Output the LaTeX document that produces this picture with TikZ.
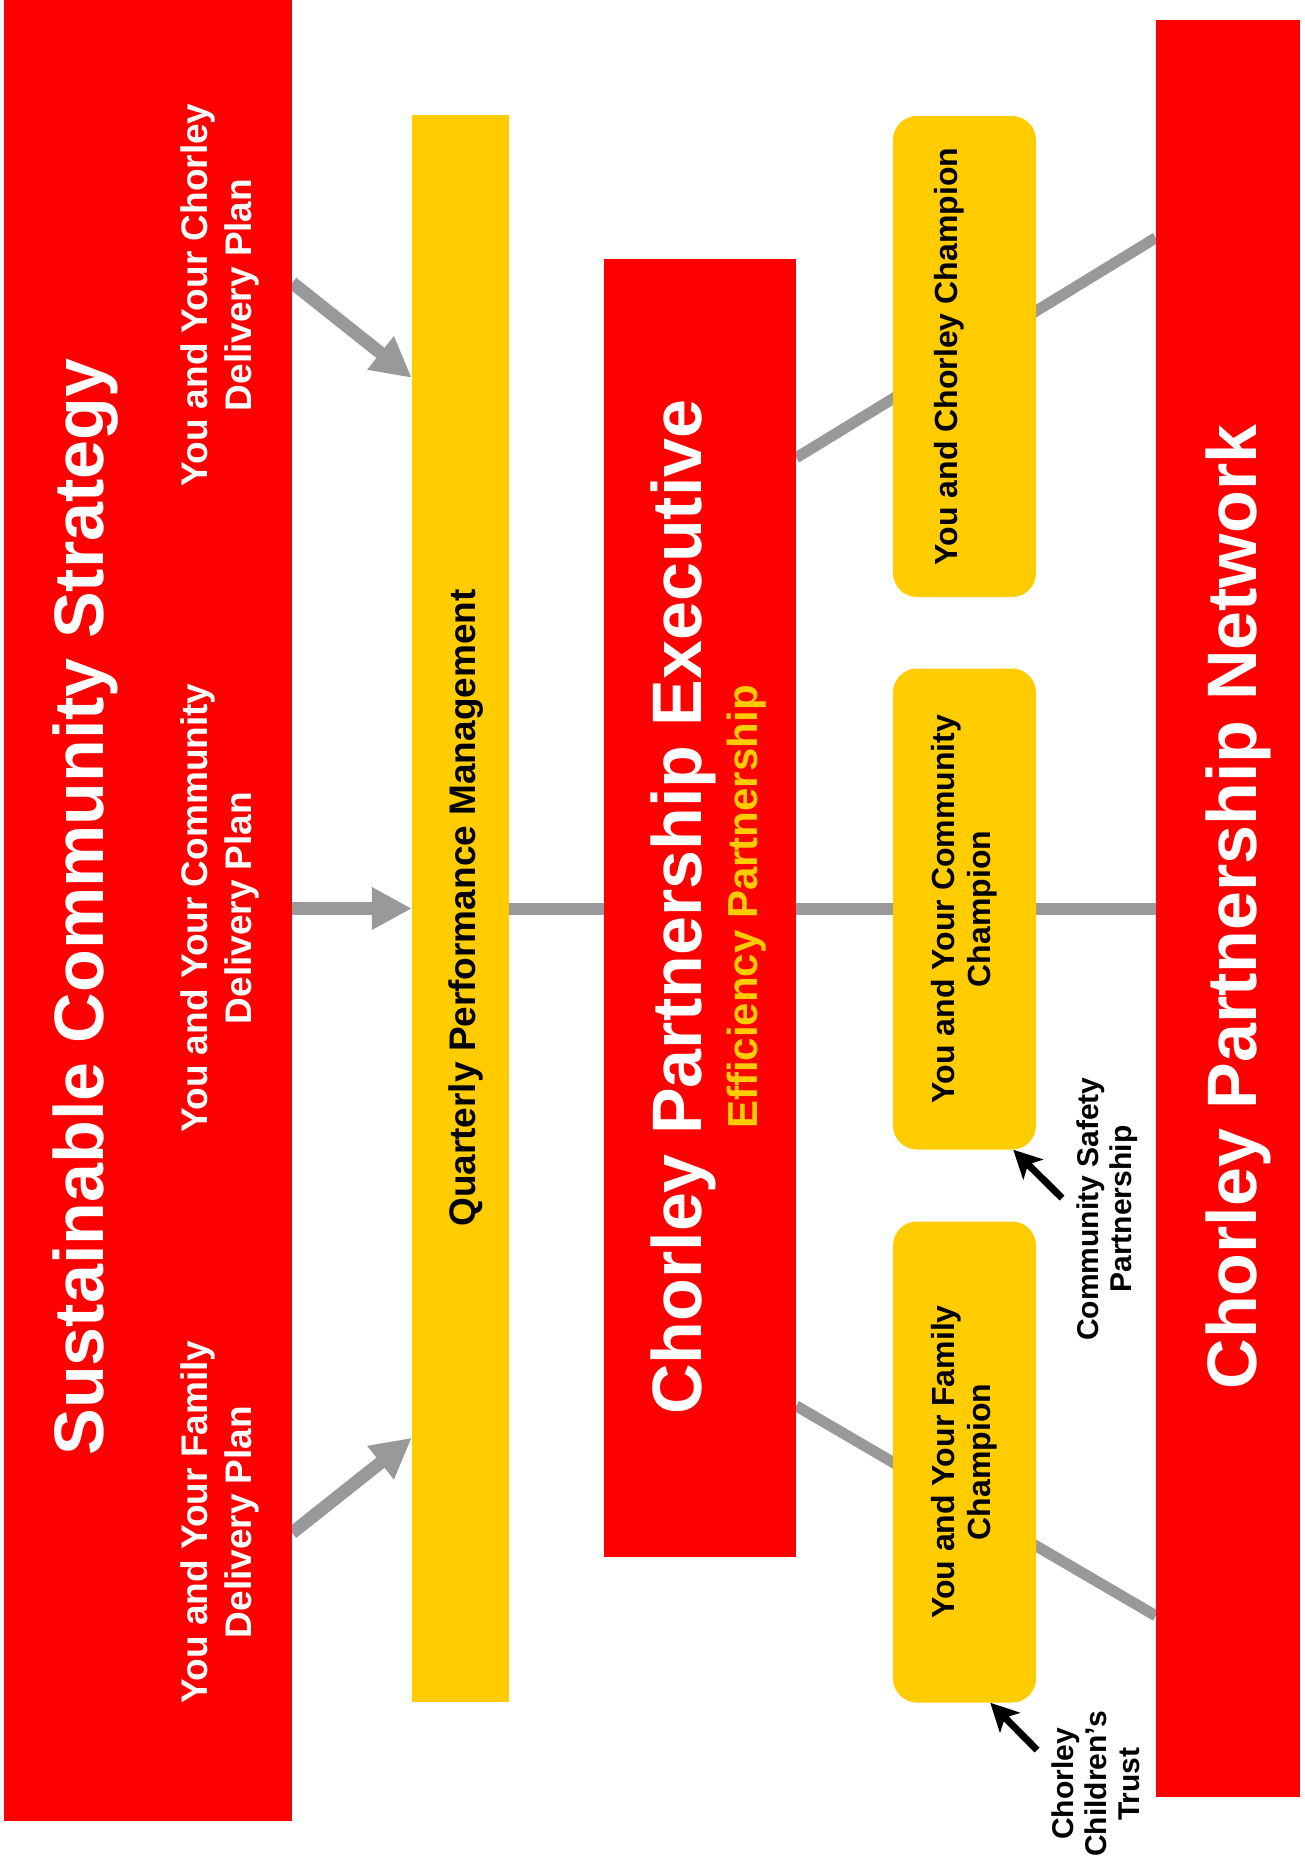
\documentclass[tikz,border=0pt]{standalone}
\usepackage{fontspec}
\setmainfont{Liberation Sans}
\usetikzlibrary{arrows.meta,backgrounds}
\definecolor{cred}{HTML}{FF0000}
\definecolor{cyel}{HTML}{FFCC00}
\definecolor{cgrey}{HTML}{999999}
\begin{document}
\begin{tikzpicture}[x=1pt,y=-1pt,
  redbox/.style={fill=cred,draw=none,inner sep=0pt},
  yelbox/.style={fill=cyel,draw=none,inner sep=0pt},
  champbox/.style={fill=cyel,draw=none,inner sep=0pt,rounded corners=24pt,minimum width=143pt,minimum height=481pt},
  rtext/.style={rotate=90,inner sep=0pt,align=center},
  bigtitle/.style={rtext,text=white,font=\bfseries\fontsize{70}{80}\selectfont},
  plantext/.style={rtext,text=white,font=\bfseries\fontsize{37}{44}\selectfont},
  qpmtext/.style={rtext,text=black,font=\bfseries\fontsize{37}{44}\selectfont},
  efftext/.style={rtext,text=cyel,font=\bfseries\fontsize{42}{48}\selectfont},
  champtext/.style={rtext,text=black,font=\bfseries\fontsize{32}{36}\selectfont},
  labeltext/.style={rtext,text=black,font=\bfseries\fontsize{30}{33}\selectfont},
  greyline/.style={draw=cgrey,line width=12pt},
  greyarrow/.style={draw=cgrey,line width=13pt,-{Triangle[length=40pt,width=40pt]}},
  blackarrow/.style={draw=black,line width=7pt,-{Stealth[length=28pt,width=28pt,inset=7pt]}}
]
\useasboundingbox (0,0) rectangle (1305,1863);

% boxes
\node[redbox,minimum width=288pt,minimum height=1821pt] (scs) at (148,910.5) {};
\node[yelbox,minimum width=97pt,minimum height=1587pt] (qpm) at (460.5,908.5) {};
\node[redbox,minimum width=192pt,minimum height=1298pt] (exec) at (700,908) {};
\node[redbox,minimum width=144pt,minimum height=1777pt] (net) at (1228,908.5) {};
\node[champbox] (chor) at (964.5,356.5) {};
\node[champbox] (comm) at (964.5,909) {};
\node[champbox] (fam) at (964.5,1462) {};

% texts
\node[bigtitle] (scsT) at (86,907) {Sustainable Community Strategy};
\node[plantext] (p1) at (220,295) {You and Your Chorley\\Delivery Plan};
\node[plantext] (p2) at (220,908) {You and Your Community\\Delivery Plan};
\node[plantext] (p3) at (220,1522) {You and Your Family\\Delivery Plan};
\node[qpmtext] (qpmT) at (466,908) {Quarterly Performance Management};
\node[bigtitle] (execT) at (683,907) {Chorley Partnership Executive};
\node[efftext] (effT) at (747,907) {Efficiency Partnership};
\node[bigtitle] (netT) at (1238,907) {Chorley Partnership Network};
\node[champtext] (chorT) at (949,356.5) {You and Chorley Champion};
\node[champtext] (commT) at (964,909) {You and Your Community\\Champion};
\node[champtext] (famT) at (964,1462) {You and Your Family\\Champion};
\node[labeltext] (csp) at (1107,1209) {Community Safety\\Partnership};
\node[labeltext] (cct) at (1096,1784) {Chorley\\Children’s\\Trust};

\coordinate (cspTail) at (1062,1198);
\coordinate (cctTail) at (1037,1750);

\begin{scope}[on background layer]
\fill[white] (0,0) rectangle (1305,1863);
\draw[greyarrow] ([yshift=-283pt]scs.north east) -- ([yshift=-263pt]qpm.north west);
\draw[greyarrow] (scs.east |- qpm.west) -- (qpm.west);
\draw[greyarrow] ([yshift=-1533pt]scs.north east) -- ([yshift=-1323pt]qpm.north west);
\draw[greyline] (qpm.east) -- (exec.west |- qpm.east);
\draw[greyline] (exec.east |- qpm.east) -- (comm.west |- qpm.east);
\draw[greyline] (comm.east |- qpm.east) -- (net.west |- qpm.east);
\draw[greyline,line width=11pt] ([yshift=-199pt]exec.north east) -- ([yshift=-218pt]net.north west);
\draw[greyline,line width=11pt] ([yshift=-1147pt]exec.north east) -- ([yshift=-1596pt]net.north west);
\end{scope}

\draw[blackarrow] (cspTail) -- ([xshift=-23pt]comm.south east);
\draw[blackarrow] (cctTail) -- ([xshift=-46pt]fam.south east);
\end{tikzpicture}
\end{document}
